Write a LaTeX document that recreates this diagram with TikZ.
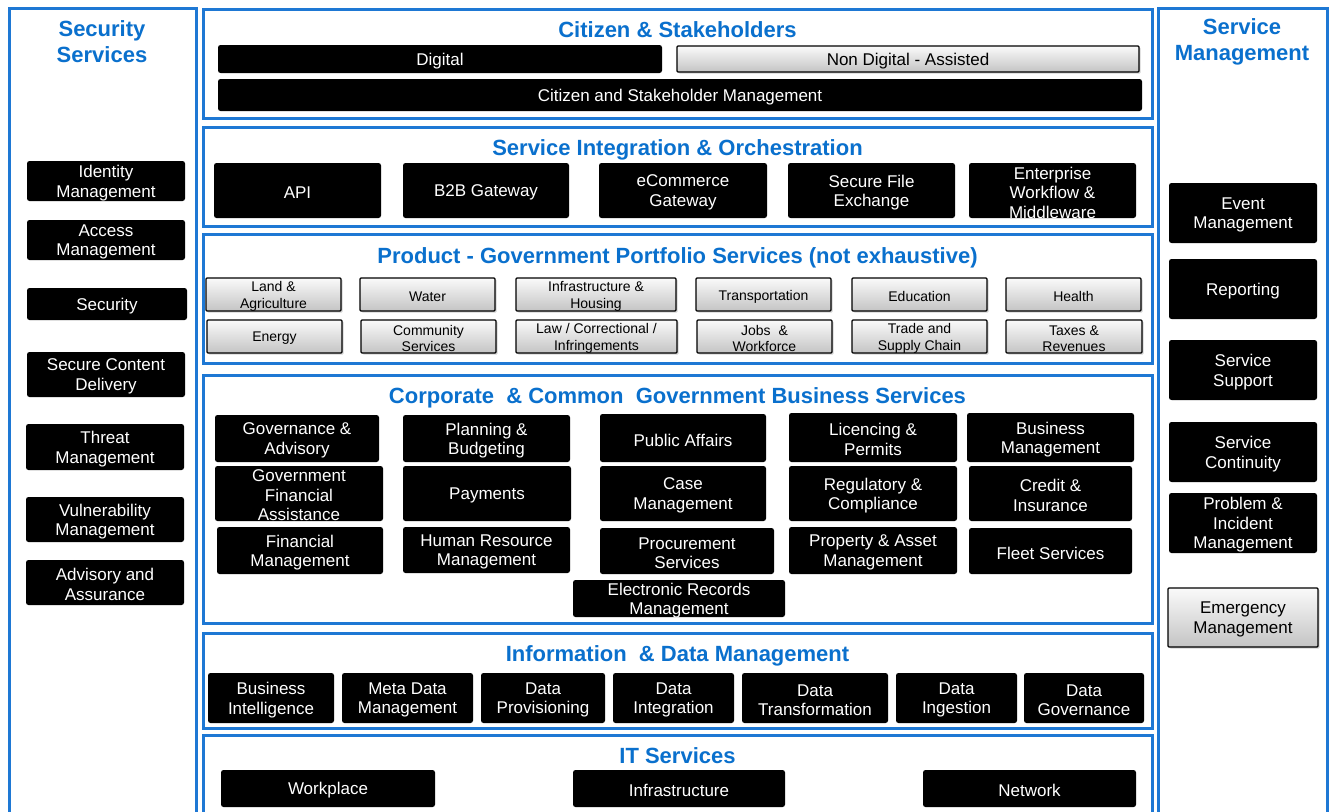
\documentclass[tikz,border=0pt]{standalone}
\usepackage{fontspec}
\setmainfont{Liberation Sans}
\usetikzlibrary{shadows}
\definecolor{pblue}{RGB}{30,120,212}
\definecolor{tblue}{RGB}{10,112,205}
\definecolor{gtop}{RGB}{250,250,250}
\definecolor{gbot}{RGB}{196,196,196}
\newcommand{\bx}[7]{\node[#1, minimum width={(#5)-(#3)}, minimum height={(#6)-(#4)}] (#2) at ({((#3)+(#5))/2},{((#4)+(#6))/2}) {};
  \node[#1txt] (#2t) at ([yshift=-2pt]#2.center) {#7};}
\tikzset{
  panel/.style={draw=pblue, line width=3pt, fill=white, inner sep=0pt},
  paneltxt/.style={inner sep=0pt},
  blk/.style={fill=black, rounded corners=2.5pt, inner sep=0pt},
  blktxt/.style={inner sep=0pt, align=center, text=white, font=\fontsize{17}{19.5}\selectfont},
  gry/.style={draw=black, line width=1.3pt, top color=gtop, bottom color=gbot, inner sep=0pt,
    rounded corners=1pt, drop shadow={shadow xshift=1.5pt, shadow yshift=-1.5pt, opacity=0.35}},
  grytxt/.style={inner sep=0pt, align=center, text=black, font=\fontsize{17}{19.5}\selectfont},
  gsm/.style={gry},
  gsmtxt/.style={grytxt, font=\fontsize{14}{16.5}\selectfont},
  ttl/.style={text=tblue, font=\fontsize{22}{26}\bfseries\selectfont, align=center, inner sep=0pt, yshift=-1.5pt},
}
\begin{document}
\begin{tikzpicture}[x=1pt,y=-1pt]
\useasboundingbox (0,0) rectangle (1332,811);
\clip (0,0) rectangle (1332,811);
% panels
\bx{panel}{pleft}{9}{8}{196}{830}{}
\bx{panel}{pcit}{203}{9}{1152}{118}{}
\bx{panel}{psio}{203}{127}{1152}{226}{}
\bx{panel}{pprod}{203}{234}{1152}{363}{}
\bx{panel}{pcorp}{203}{375}{1152}{623}{}
\bx{panel}{pinfo}{203}{633}{1152}{728}{}
\bx{panel}{pit}{203}{735}{1152}{830}{}
\bx{panel}{pright}{1158}{8}{1327}{830}{}
% titles
\node[ttl] (tsec) at (102,40.5) {Security\\Services};
\node[ttl] (tsm) at (1242,40.5) {Service\\Management};
\node[ttl] (tcit) at (677.5,28) {Citizen \& Stakeholders};
\node[ttl] (tsio) at (677.5,148.5) {Service Integration \& Orchestration};
\node[ttl] (tprod) at (677.5,256) {Product - Government Portfolio Services (not exhaustive)};
\node[ttl] (tcorp) at (677.5,396) {Corporate~ \& Common~ Government Business Services};
\node[ttl] (tinfo) at (677.5,654) {Information~ \& Data Management};
\node[ttl] (tit) at (677.5,754) {IT Services};
% citizen
\bx{blk}{digital}{218}{45}{662}{73}{Digital}
\bx{gry}{nondig}{677}{46}{1139}{72}{Non Digital - Assisted}
\bx{blk}{csm}{218}{79}{1142}{111}{Citizen and Stakeholder Management}
% SIO
\bx{blk}{api}{214}{163}{381}{218}{API}
\bx{blk}{b2b}{403}{163}{569}{218}{B2B Gateway}
\bx{blk}{ecom}{599}{163}{767}{218}{eCommerce\\Gateway}
\bx{blk}{sfe}{788}{163}{955}{218}{Secure File\\Exchange}
\bx{blk}{ewm}{969}{163}{1136}{218}{Enterprise\\Workflow \&\\Middleware}
% product
\bx{gsm}{land}{206}{278}{341}{311}{Land \&\\Agriculture}
\bx{gsm}{water}{360}{278}{495}{311}{Water}
\bx{gsm}{infh}{516}{278}{676}{311}{Infrastructure \&\\Housing}
\bx{gsm}{trans}{696}{278}{831}{311}{Transportation}
\bx{gsm}{edu}{852}{278}{987}{311}{Education}
\bx{gsm}{health}{1006}{278}{1141}{311}{Health}
\bx{gsm}{energy}{207}{320}{342}{353}{Energy}
\bx{gsm}{comm}{361}{320}{496}{353}{Community\\Services}
\bx{gsm}{law}{516}{320}{677}{353}{Law / Correctional /\\Infringements}
\bx{gsm}{jobs}{697}{320}{832}{353}{Jobs~ \&\\Workforce}
\bx{gsm}{trade}{852}{320}{987}{353}{Trade and\\Supply Chain}
\bx{gsm}{taxes}{1006}{320}{1142}{353}{Taxes \&\\Revenues}
% corporate
\bx{blk}{gov}{215}{415}{379}{462}{Governance \&\\Advisory}
\bx{blk}{gfa}{215}{466}{383}{521}{Government\\Financial\\Assistance}
\bx{blk}{finm}{217}{527}{383}{574}{Financial\\Management}
\bx{blk}{plan}{403}{415}{570}{462}{Planning \&\\Budgeting}
\bx{blk}{pay}{403}{466}{571}{521}{Payments}
\bx{blk}{hrm}{403}{527}{570}{573}{Human Resource\\Management}
\bx{blk}{pub}{600}{414}{766}{462}{Public Affairs}
\bx{blk}{case}{600}{466}{766}{521}{Case\\Management}
\bx{blk}{proc}{600}{528}{774}{574}{Procurement\\Services}
\bx{blk}{erm}{573}{580}{785}{617}{Electronic Records\\Management}
\bx{blk}{lic}{789}{413}{957}{462}{Licencing \&\\Permits}
\bx{blk}{busm}{967}{413}{1134}{462}{Business\\Management}
\bx{blk}{reg}{789}{466}{957}{521}{Regulatory \&\\Compliance}
\bx{blk}{cred}{969}{466}{1132}{521}{Credit \&\\Insurance}
\bx{blk}{prop}{789}{527}{957}{574}{Property \& Asset\\Management}
\bx{blk}{fleet}{969}{528}{1132}{574}{Fleet Services}
% info & data
\bx{blk}{bi}{208}{673}{334}{723}{Business\\Intelligence}
\bx{blk}{meta}{342}{673}{473}{723}{Meta Data\\Management}
\bx{blk}{dprov}{481}{673}{605}{723}{Data\\Provisioning}
\bx{blk}{dint}{613}{673}{734}{723}{Data\\Integration}
\bx{blk}{dtr}{742}{673}{888}{723}{Data\\Transformation}
\bx{blk}{ding}{896}{673}{1017}{723}{Data\\Ingestion}
\bx{blk}{dgov}{1024}{673}{1144}{723}{Data\\Governance}
% IT
\bx{blk}{work}{221}{770}{435}{807}{Workplace}
\bx{blk}{infra}{573}{770}{785}{807}{Infrastructure}
\bx{blk}{net}{923}{770}{1136}{807}{Network}
% left
\bx{blk}{idm}{27}{161}{185}{201}{Identity\\Management}
\bx{blk}{accm}{27}{220}{185}{260}{Access\\Management}
\bx{blk}{secu}{27}{288}{187}{320}{Security}
\bx{blk}{scd}{27}{352}{185}{397}{Secure Content\\Delivery}
\bx{blk}{thr}{26}{424}{184}{470}{Threat\\Management}
\bx{blk}{vul}{26}{497}{184}{542}{Vulnerability\\Management}
\bx{blk}{adv}{26}{560}{184}{605}{Advisory and\\Assurance}
% right
\bx{blk}{evt}{1169}{183}{1317}{243}{Event\\Management}
\bx{blk}{rep}{1169}{259}{1317}{319}{Reporting}
\bx{blk}{ssup}{1169}{340}{1317}{400}{Service\\Support}
\bx{blk}{scont}{1169}{422}{1317}{482}{Service\\Continuity}
\bx{blk}{pim}{1169}{493}{1317}{553}{Problem \&\\Incident\\Management}
\bx{gry}{emg}{1168}{588}{1318}{647}{Emergency\\Management}
\end{tikzpicture}
\end{document}
